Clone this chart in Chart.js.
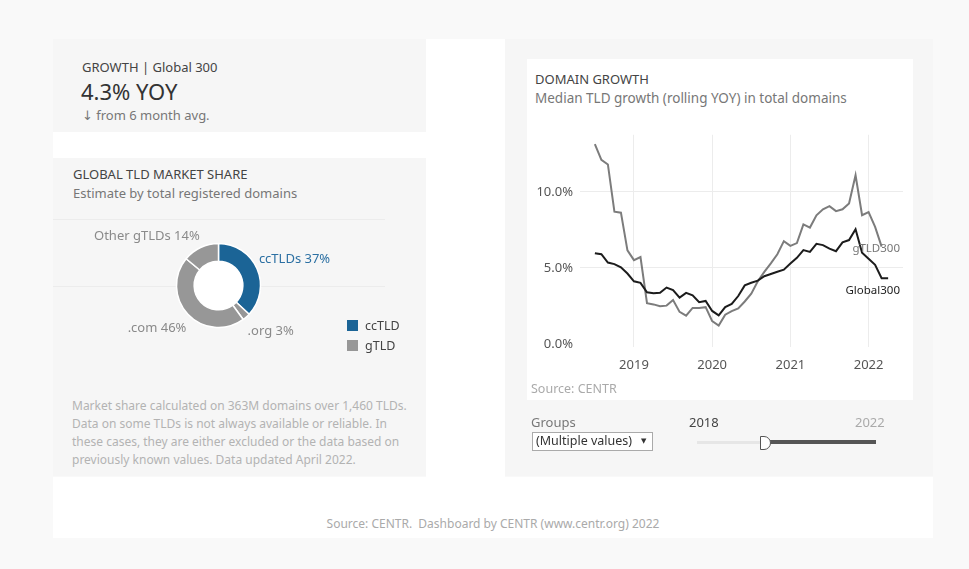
<!DOCTYPE html>
<html>
<head>
<meta charset="utf-8">
<script src="https://cdn.jsdelivr.net/npm/chart.js@4.4.0/dist/chart.umd.min.js"></script>
<style>
  body { margin:0; width:969px; height:569px; background:#f9f9f9; font-family:"Noto Sans","DejaVu Sans",sans-serif; position:relative; overflow:hidden; }
  .box { position:absolute; }
  .t { position:absolute; white-space:nowrap; line-height:16px; }
  .grey { background:#f6f6f6; }
  .white { background:#fff; }
</style>
</head>
<body>
<!-- panels -->
<div class="box grey" style="left:53px;top:39px;width:373px;height:93px"></div>
<div class="box white" style="left:53px;top:132px;width:373px;height:26px"></div>
<div class="box grey" style="left:53px;top:158px;width:373px;height:318px"></div>
<div class="box white" style="left:426px;top:39px;width:79px;height:438px"></div>
<div class="box grey" style="left:505px;top:39px;width:428px;height:437px"></div>
<div class="box white" style="left:527px;top:59px;width:386px;height:341px"></div>
<div class="box white" style="left:53px;top:477px;width:880px;height:61px"></div>

<!-- KPI -->
<div class="t" style="left:82px;top:59px;font-size:13px;color:#444">GROWTH | Global 300</div>
<div class="t" style="left:81px;top:78px;font-size:22px;line-height:26px;color:#333">4.3% YOY</div>
<div class="t" style="left:82px;top:107px;font-size:13px;color:#777">↓ from 6 month avg.</div>

<!-- market share -->
<div class="t" style="left:73px;top:166px;font-size:13px;color:#444">GLOBAL TLD MARKET SHARE</div>
<div class="t" style="left:73px;top:185px;font-size:13px;color:#777">Estimate by total registered domains</div>
<div class="box" style="left:53px;top:219px;width:332px;height:1px;background:#ececec"></div>
<div class="box" style="left:53px;top:286px;width:332px;height:1px;background:#ececec"></div>
<div class="box" style="left:60px;top:200px;width:317px;height:171px"><canvas id="donut"></canvas></div>
<div id="legend"></div>
<div class="t" style="left:72px;top:397px;font-size:12px;line-height:18px;color:#b3b3b3">Market share calculated on 363M domains over 1,460 TLDs.<br>Data on some TLDs is not always available or reliable. In<br>these cases, they are either excluded or the data based on<br>previously known values. Data updated April 2022.</div>

<!-- domain growth -->
<div class="t" style="left:535px;top:71px;font-size:13px;color:#444">DOMAIN GROWTH</div>
<div class="t" style="left:535px;top:90px;font-size:13.5px;color:#777">Median TLD growth (rolling YOY) in total domains</div>
<div class="box" style="left:527px;top:120px;width:386px;height:262px"><canvas id="growth"></canvas></div>
<div class="t" style="left:531px;top:381px;font-size:12.5px;color:#aaa">Source: CENTR</div>

<!-- filters -->
<div class="t" style="left:531px;top:414px;font-size:13px;color:#777">Groups</div>
<div class="box" style="left:532px;top:432px;width:121px;height:19px;border:1px solid #aaa;background:#fff;box-sizing:border-box">
  <div class="t" style="left:3px;top:0px;font-size:12.5px;color:#333">(Multiple values)</div>
  <div class="t" style="left:108px;top:0px;font-size:7px;color:#333">▼</div>
</div>
<div class="t" style="left:689px;top:414px;font-size:13px;color:#444">2018</div>
<div class="t" style="left:855px;top:414px;font-size:13px;color:#aaa">2022</div>
<div class="box" style="left:697px;top:441px;width:68px;height:3px;background:#e6e6e6"></div>
<div class="box" style="left:766px;top:440px;width:110px;height:4px;background:#555"></div>
<div class="box" style="left:760px;top:436px;width:9px;height:12px;border:1px solid #555;border-radius:0 7px 7px 0;background:#fff"></div>

<!-- footer -->
<div class="t" style="left:0;width:986px;text-align:center;top:516px;font-size:12px;color:#aaa">Source: CENTR.&nbsp; Dashboard by CENTR (www.centr.org) 2022</div>

<script>
// market share
var segments = ['ccTLDs', '.org', '.com', 'Other gTLDs'];
var shares = [37, 3, 46, 14];
var segGroup = ['ccTLD', 'gTLD', 'gTLD', 'gTLD'];
var groups = ['ccTLD', 'gTLD'];
var groupColors = { ccTLD: '#1b6496', gTLD: '#979797' };
var labelColors = { ccTLD: '#2c70a3', gTLD: '#8a8a8a' };

// growth (rolling YOY, %), monthly from Jul 2018
var months = ['2018-07','2018-08','2018-09','2018-10','2018-11','2018-12',
  '2019-01','2019-02','2019-03','2019-04','2019-05','2019-06','2019-07','2019-08','2019-09','2019-10','2019-11','2019-12',
  '2020-01','2020-02','2020-03','2020-04','2020-05','2020-06','2020-07','2020-08','2020-09','2020-10','2020-11','2020-12',
  '2021-01','2021-02','2021-03','2021-04','2021-05','2021-06','2021-07','2021-08','2021-09','2021-10','2021-11','2021-12',
  '2022-01','2022-02','2022-03','2022-04'];
var global300 = [5.97, 5.90, 5.35, 5.25, 5.04, 4.63, 4.12, 4.02, 3.40, 3.34, 3.36, 3.71, 3.54, 3.05, 3.36, 3.20, 2.74, 2.83,
  2.17, 1.88, 2.42, 2.63, 3.15, 3.85, 4.02, 4.16, 4.45, 4.60, 4.75, 4.88, 5.29, 5.66, 6.17, 6.05, 6.58, 6.50,
  6.27, 6.10, 6.68, 6.83, 7.54, 6.00, 5.60, 5.20, 4.32, 4.32];
var gtld300 = [13.14, 12.10, 11.80, 8.70, 8.63, 6.15, 5.51, 5.71, 2.68, 2.60, 2.48, 2.52, 2.89, 2.11, 1.86, 2.37, 2.37, 2.42,
  1.50, 1.21, 1.92, 2.16, 2.34, 2.79, 3.30, 4.12, 4.74, 5.30, 5.90, 6.76, 6.45, 6.63, 7.86, 7.65, 8.46, 8.85,
  9.06, 8.73, 8.85, 9.24, 11.09, 8.46, 8.67, 7.70, 6.40];
var yearTicks = [2019, 2020, 2021, 2022];
var pctTicks = [0, 5, 10];

Chart.defaults.font.family = '"Noto Sans", "DejaVu Sans", sans-serif';

// legend
var legendHtml = '';
groups.forEach(function (g, i) {
  legendHtml += '<div class="box" style="left:347px;top:' + (320 + i * 20) + 'px;width:11px;height:11px;background:' + groupColors[g] + '"></div>' +
    '<div class="t" style="left:365px;top:' + (318 + i * 20) + 'px;font-size:12.5px;color:#444">' + g + '</div>';
});
document.getElementById('legend').innerHTML = legendHtml;

function monthToYear(m) {
  var p = m.split('-');
  return +p[0] + (+p[1] - 1) / 12;
}
function points(vals) {
  return vals.map(function (v, i) { return { x: monthToYear(months[i]), y: v }; });
}

var donutLabels = {
  id: 'donutLabels',
  beforeDatasetsDraw: function (chart) {
    var arc = chart.getDatasetMeta(0).data[0];
    var ctx = chart.ctx;
    ctx.save();
    ctx.fillStyle = '#fff';
    ctx.beginPath();
    ctx.arc(arc.x, arc.y, arc.innerRadius, 0, Math.PI * 2);
    ctx.fill();
    ctx.restore();
  },
  afterDatasetsDraw: function (chart) {
    var ctx = chart.ctx;
    var meta = chart.getDatasetMeta(0);
    ctx.save();
    ctx.font = '13px "Noto Sans", sans-serif';
    ctx.textBaseline = 'middle';
    meta.data.forEach(function (a, i) {
      var mid = (a.startAngle + a.endAngle) / 2;
      var r = a.outerRadius + 2;
      var c = Math.cos(mid), s = Math.sin(mid);
      var x = a.x + c * r;
      var y = a.y + s * r + (s < 0 ? -9 : 12.5);
      ctx.textAlign = c >= 0 ? 'left' : 'right';
      ctx.fillStyle = labelColors[segGroup[i]];
      ctx.fillText(segments[i] + ' ' + shares[i] + '%', x, y);
    });
    ctx.restore();
  }
};

new Chart(document.getElementById('donut'), {
  type: 'doughnut',
  data: {
    labels: segments,
    datasets: [{
      data: shares,
      backgroundColor: segGroup.map(function (g) { return groupColors[g]; }),
      borderColor: '#fff',
      borderWidth: 1.5
    }]
  },
  options: {
    responsive: true,
    maintainAspectRatio: false,
    animation: false,
    radius: 42,
    cutout: '58%',
    plugins: { legend: { display: false }, tooltip: { enabled: false } }
  },
  plugins: [donutLabels]
});

var endLabels = {
  id: 'endLabels',
  afterDatasetsDraw: function (chart) {
    var ctx = chart.ctx;
    chart.data.datasets.forEach(function (ds, i) {
      var meta = chart.getDatasetMeta(i);
      var pt = meta.data[meta.data.length - 1];
      ctx.save();
      ctx.font = '11.5px "Noto Sans", sans-serif';
      ctx.fillStyle = ds.labelColor;
      ctx.textAlign = 'right';
      ctx.textBaseline = 'middle';
      ctx.fillText(ds.label, chart.chartArea.right - 3, pt.y + ds.labelDy);
      ctx.restore();
    });
  }
};

new Chart(document.getElementById('growth'), {
  type: 'line',
  data: {
    datasets: [{
      label: 'Global300',
      data: points(global300),
      borderColor: '#1c1c1c',
      borderWidth: 2,
      pointRadius: 0,
      labelColor: '#222',
      labelDy: 12
    }, {
      label: 'gTLD300',
      data: points(gtld300),
      borderColor: '#7c7c7c',
      borderWidth: 2,
      pointRadius: 0,
      labelColor: '#777',
      labelDy: 2
    }]
  },
  options: {
    responsive: true,
    maintainAspectRatio: false,
    animation: false,
    layout: { padding: { top: 7, right: 10, left: 0, bottom: 0 } },
    plugins: { legend: { display: false }, tooltip: { enabled: false } },
    scales: {
      x: {
        type: 'linear',
        min: 2018.31,
        max: 2022.44,
        afterBuildTicks: function (s) { s.ticks = yearTicks.map(function (v) { return { value: v }; }); },
        afterFit: function (s) { s.height = 35; },
        grid: { color: '#ececec', drawTicks: false },
        border: { display: false },
        ticks: { color: '#555', font: { size: 13 }, padding: 10, maxRotation: 0, callback: function (v) { return String(v); } }
      },
      y: {
        min: -0.2,
        max: 13.75,
        afterBuildTicks: function (s) { s.ticks = pctTicks.map(function (v) { return { value: v }; }); },
        afterFit: function (s) { s.width = 53; },
        grid: { color: function (c) { return c.tick && c.tick.value === 0 ? 'rgba(0,0,0,0)' : '#ececec'; }, drawTicks: false },
        border: { display: false },
        ticks: { color: '#555', font: { size: 13 }, padding: 7, callback: function (v) { return v.toFixed(1) + '%'; } }
      }
    }
  },
  plugins: [endLabels]
});
</script>
</body>
</html>
